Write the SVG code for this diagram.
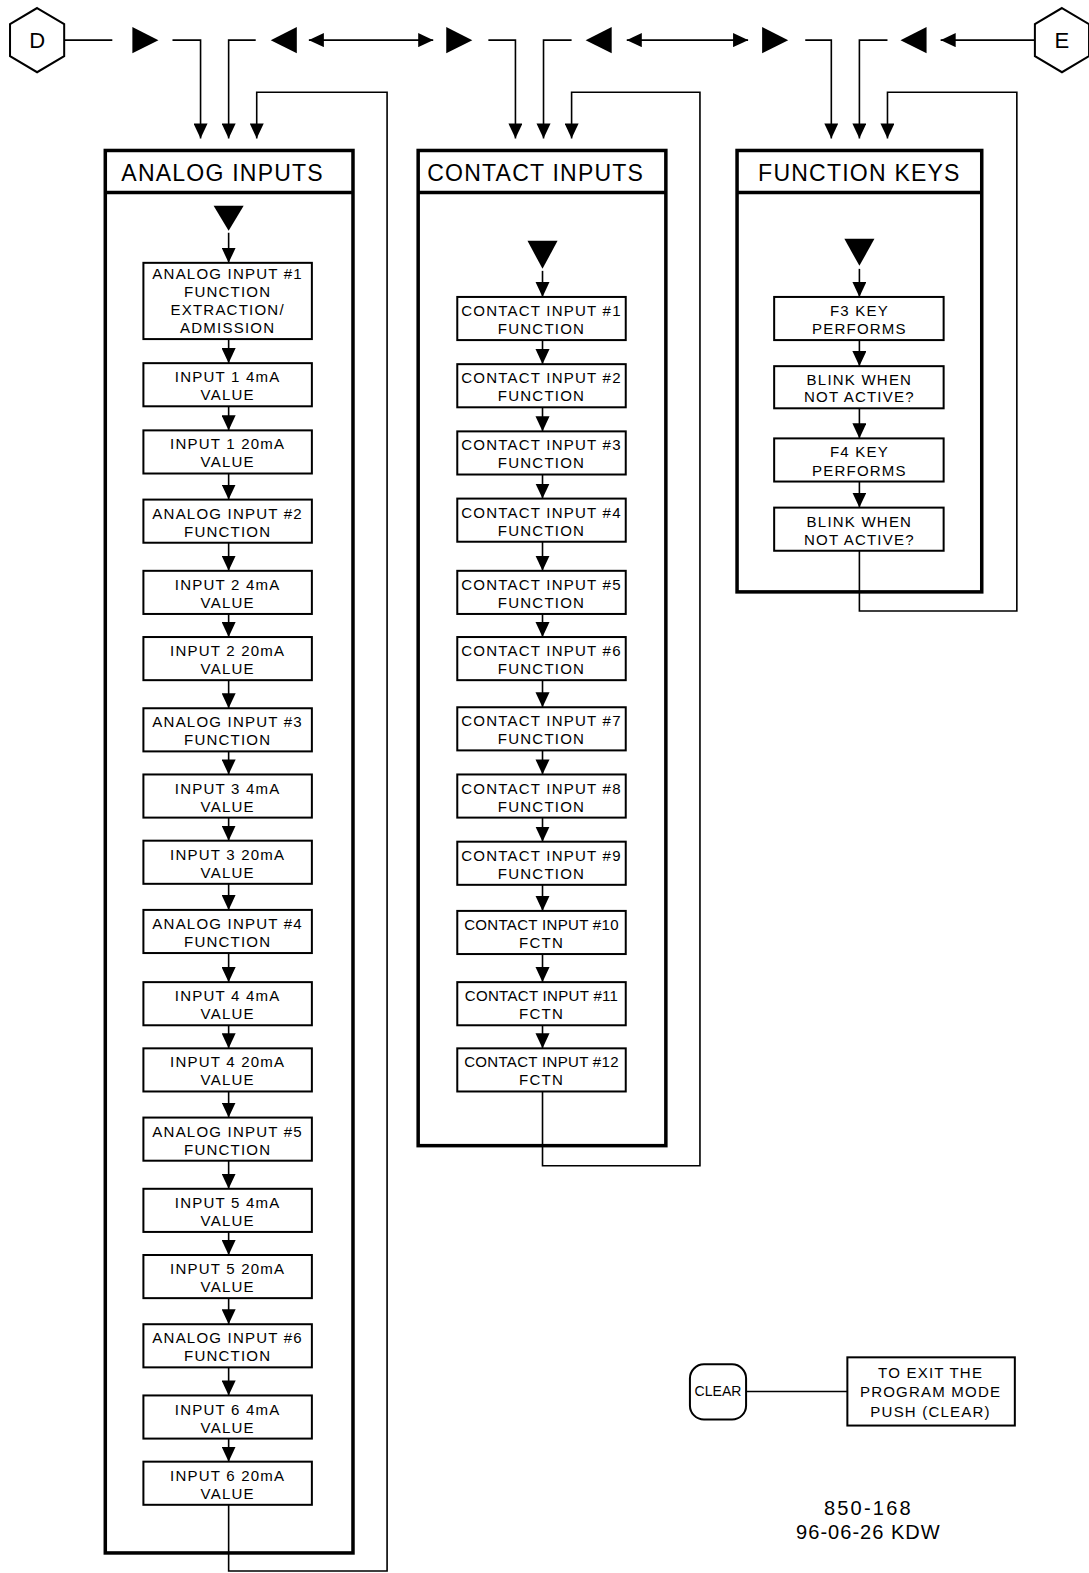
<svg xmlns="http://www.w3.org/2000/svg" width="1089" height="1573" viewBox="0 0 1089 1573">
<style>
.box{fill:#fff;stroke:#000;stroke-width:2}
.frame{fill:none;stroke:#000;stroke-width:3.5}
.conn{fill:none;stroke:#000;stroke-width:1.6}
.tri{fill:#000;stroke:none}
.t{font-family:"Liberation Sans",Arial,sans-serif;font-size:15px;text-anchor:middle;letter-spacing:1.2px;fill:#000}
.n{letter-spacing:0.3px}
.title{font-family:"Liberation Sans",Arial,sans-serif;font-size:23px;letter-spacing:1.2px;fill:#000}
.big{font-family:"Liberation Sans",Arial,sans-serif;font-size:20px;text-anchor:middle;letter-spacing:1px;fill:#000}
.hex{font-family:"Liberation Sans",Arial,sans-serif;font-size:22px;text-anchor:middle;fill:#000}
</style>
<defs>
<marker id="ah" markerWidth="15" markerHeight="14" refX="15" refY="7" orient="auto-start-reverse" markerUnits="userSpaceOnUse"><path d="M0,0 L15,7 L0,14 z" fill="#000"/></marker>
</defs>
<rect width="1089" height="1573" fill="#fff"/>
<g transform="scale(1.0028,1.0032)">
<g id="connectors">
<line class="conn" x1="64" y1="40" x2="112" y2="40"/>
<path class="conn" d="M172,40 H200 V138" marker-end="url(#ah)"/>
<path class="conn" d="M255,40 H228 V138" marker-end="url(#ah)"/>
<line class="conn" x1="308" y1="40" x2="432" y2="40" marker-start="url(#ah)" marker-end="url(#ah)"/>
<path class="conn" d="M487,40 H514 V138" marker-end="url(#ah)"/>
<path class="conn" d="M570,40 H542 V138" marker-end="url(#ah)"/>
<line class="conn" x1="625" y1="40" x2="746" y2="40" marker-start="url(#ah)" marker-end="url(#ah)"/>
<path class="conn" d="M803,40 H829 V138" marker-end="url(#ah)"/>
<path class="conn" d="M885,40 H857 V138" marker-end="url(#ah)"/>
<line class="conn" x1="1032" y1="40" x2="938" y2="40" marker-end="url(#ah)"/>
<path class="conn" d="M228,1500 V1566 H386 V92 H256 V138" marker-end="url(#ah)"/>
<path class="conn" d="M541,1088 V1162 H698 V92 H570 V138" marker-end="url(#ah)"/>
<path class="conn" d="M857,549 V609 H1014 V92 H885 V138" marker-end="url(#ah)"/>
<line class="conn" x1="744" y1="1387" x2="845" y2="1387"/>
<!-- analog chain -->
<path class="conn" marker-end="url(#ah)" d="M228,232 V262"/>
<path class="conn" marker-end="url(#ah)" d="M228,338 V362"/>
<path class="conn" marker-end="url(#ah)" d="M228,405 V429"/>
<path class="conn" marker-end="url(#ah)" d="M228,472 V498"/>
<path class="conn" marker-end="url(#ah)" d="M228,541 V569"/>
<path class="conn" marker-end="url(#ah)" d="M228,612 V635"/>
<path class="conn" marker-end="url(#ah)" d="M228,678 V706"/>
<path class="conn" marker-end="url(#ah)" d="M228,749 V772"/>
<path class="conn" marker-end="url(#ah)" d="M228,815 V838"/>
<path class="conn" marker-end="url(#ah)" d="M228,881 V907"/>
<path class="conn" marker-end="url(#ah)" d="M228,950 V979"/>
<path class="conn" marker-end="url(#ah)" d="M228,1022 V1045"/>
<path class="conn" marker-end="url(#ah)" d="M228,1088 V1114"/>
<path class="conn" marker-end="url(#ah)" d="M228,1157 V1185"/>
<path class="conn" marker-end="url(#ah)" d="M228,1228 V1251"/>
<path class="conn" marker-end="url(#ah)" d="M228,1294 V1320"/>
<path class="conn" marker-end="url(#ah)" d="M228,1363 V1391"/>
<path class="conn" marker-end="url(#ah)" d="M228,1434 V1457"/>
<!-- contact chain -->
<path class="conn" marker-end="url(#ah)" d="M541,270 V296"/>
<path class="conn" marker-end="url(#ah)" d="M541,339 V363"/>
<path class="conn" marker-end="url(#ah)" d="M541,406 V430"/>
<path class="conn" marker-end="url(#ah)" d="M541,473 V497"/>
<path class="conn" marker-end="url(#ah)" d="M541,540 V569"/>
<path class="conn" marker-end="url(#ah)" d="M541,612 V635"/>
<path class="conn" marker-end="url(#ah)" d="M541,678 V705"/>
<path class="conn" marker-end="url(#ah)" d="M541,748 V772"/>
<path class="conn" marker-end="url(#ah)" d="M541,815 V839"/>
<path class="conn" marker-end="url(#ah)" d="M541,882 V908"/>
<path class="conn" marker-end="url(#ah)" d="M541,951 V979"/>
<path class="conn" marker-end="url(#ah)" d="M541,1022 V1045"/>
<!-- function chain -->
<path class="conn" marker-end="url(#ah)" d="M857,268 V296"/>
<path class="conn" marker-end="url(#ah)" d="M857,339 V365"/>
<path class="conn" marker-end="url(#ah)" d="M857,407 V437"/>
<path class="conn" marker-end="url(#ah)" d="M857,480 V506"/>
</g>

<g id="hex-D"><polygon class="box" points="37,8 64,24 64,56 37,72 10,56 10,24"/><text class="hex" x="37" y="48">D</text></g>
<g id="hex-E"><polygon class="box" points="1059,8 1086,24 1086,56 1059,72 1032,56 1032,24"/><text class="hex" x="1059" y="48">E</text></g>

<g id="keys">
<polygon class="tri" points="132,27 158,40 132,53"/>
<polygon class="tri" points="296,27 270,40 296,53"/>
<polygon class="tri" points="445,27 471,40 445,53"/>
<polygon class="tri" points="610,27 584,40 610,53"/>
<polygon class="tri" points="760,27 786,40 760,53"/>
<polygon class="tri" points="924,27 898,40 924,53"/>
<polygon class="tri" points="213,205 243,205 228,230"/>
<polygon class="tri" points="526,240 556,240 541,268"/>
<polygon class="tri" points="842,238 872,238 857,265"/>
</g>

<g id="analog-frame"><rect class="frame" x="105" y="150" width="247" height="1398"/><line class="frame" x1="105" y1="192" x2="352" y2="192"/><text class="title" x="121" y="180">ANALOG INPUTS</text></g>
<g id="contact-frame"><rect class="frame" x="417" y="150" width="247" height="992"/><line class="frame" x1="417" y1="192" x2="664" y2="192"/><text class="title" x="426" y="180">CONTACT INPUTS</text></g>
<g id="function-frame"><rect class="frame" x="735" y="150" width="244" height="440"/><line class="frame" x1="735" y1="192" x2="979" y2="192"/><text class="title" x="756" y="180">FUNCTION KEYS</text></g>

<g id="a1"><rect class="box" x="143" y="262" width="168" height="76"/><text class="t" x="227" y="278">ANALOG INPUT #1</text><text class="t" x="227" y="296">FUNCTION</text><text class="t" x="227" y="314">EXTRACTION/</text><text class="t" x="227" y="332">ADMISSION</text></g>
<g id="a2"><rect class="box" x="143" y="362" width="168" height="43"/><text class="t" x="227" y="381">INPUT 1 4mA</text><text class="t" x="227" y="399">VALUE</text></g>
<g id="a3"><rect class="box" x="143" y="429" width="168" height="43"/><text class="t" x="227" y="448">INPUT 1 20mA</text><text class="t" x="227" y="466">VALUE</text></g>
<g id="a4"><rect class="box" x="143" y="498" width="168" height="43"/><text class="t" x="227" y="517">ANALOG INPUT #2</text><text class="t" x="227" y="535">FUNCTION</text></g>
<g id="a5"><rect class="box" x="143" y="569" width="168" height="43"/><text class="t" x="227" y="588">INPUT 2 4mA</text><text class="t" x="227" y="606">VALUE</text></g>
<g id="a6"><rect class="box" x="143" y="635" width="168" height="43"/><text class="t" x="227" y="654">INPUT 2 20mA</text><text class="t" x="227" y="672">VALUE</text></g>
<g id="a7"><rect class="box" x="143" y="706" width="168" height="43"/><text class="t" x="227" y="725">ANALOG INPUT #3</text><text class="t" x="227" y="743">FUNCTION</text></g>
<g id="a8"><rect class="box" x="143" y="772" width="168" height="43"/><text class="t" x="227" y="791">INPUT 3 4mA</text><text class="t" x="227" y="809">VALUE</text></g>
<g id="a9"><rect class="box" x="143" y="838" width="168" height="43"/><text class="t" x="227" y="857">INPUT 3 20mA</text><text class="t" x="227" y="875">VALUE</text></g>
<g id="a10"><rect class="box" x="143" y="907" width="168" height="43"/><text class="t" x="227" y="926">ANALOG INPUT #4</text><text class="t" x="227" y="944">FUNCTION</text></g>
<g id="a11"><rect class="box" x="143" y="979" width="168" height="43"/><text class="t" x="227" y="998">INPUT 4 4mA</text><text class="t" x="227" y="1016">VALUE</text></g>
<g id="a12"><rect class="box" x="143" y="1045" width="168" height="43"/><text class="t" x="227" y="1064">INPUT 4 20mA</text><text class="t" x="227" y="1082">VALUE</text></g>
<g id="a13"><rect class="box" x="143" y="1114" width="168" height="43"/><text class="t" x="227" y="1133">ANALOG INPUT #5</text><text class="t" x="227" y="1151">FUNCTION</text></g>
<g id="a14"><rect class="box" x="143" y="1185" width="168" height="43"/><text class="t" x="227" y="1204">INPUT 5 4mA</text><text class="t" x="227" y="1222">VALUE</text></g>
<g id="a15"><rect class="box" x="143" y="1251" width="168" height="43"/><text class="t" x="227" y="1270">INPUT 5 20mA</text><text class="t" x="227" y="1288">VALUE</text></g>
<g id="a16"><rect class="box" x="143" y="1320" width="168" height="43"/><text class="t" x="227" y="1339">ANALOG INPUT #6</text><text class="t" x="227" y="1357">FUNCTION</text></g>
<g id="a17"><rect class="box" x="143" y="1391" width="168" height="43"/><text class="t" x="227" y="1410">INPUT 6 4mA</text><text class="t" x="227" y="1428">VALUE</text></g>
<g id="a18"><rect class="box" x="143" y="1457" width="168" height="43"/><text class="t" x="227" y="1476">INPUT 6 20mA</text><text class="t" x="227" y="1494">VALUE</text></g>

<g id="c1"><rect class="box" x="456" y="296" width="168" height="43"/><text class="t" x="540" y="315">CONTACT INPUT #1</text><text class="t" x="540" y="333">FUNCTION</text></g>
<g id="c2"><rect class="box" x="456" y="363" width="168" height="43"/><text class="t" x="540" y="382">CONTACT INPUT #2</text><text class="t" x="540" y="400">FUNCTION</text></g>
<g id="c3"><rect class="box" x="456" y="430" width="168" height="43"/><text class="t" x="540" y="449">CONTACT INPUT #3</text><text class="t" x="540" y="467">FUNCTION</text></g>
<g id="c4"><rect class="box" x="456" y="497" width="168" height="43"/><text class="t" x="540" y="516">CONTACT INPUT #4</text><text class="t" x="540" y="534">FUNCTION</text></g>
<g id="c5"><rect class="box" x="456" y="569" width="168" height="43"/><text class="t" x="540" y="588">CONTACT INPUT #5</text><text class="t" x="540" y="606">FUNCTION</text></g>
<g id="c6"><rect class="box" x="456" y="635" width="168" height="43"/><text class="t" x="540" y="654">CONTACT INPUT #6</text><text class="t" x="540" y="672">FUNCTION</text></g>
<g id="c7"><rect class="box" x="456" y="705" width="168" height="43"/><text class="t" x="540" y="724">CONTACT INPUT #7</text><text class="t" x="540" y="742">FUNCTION</text></g>
<g id="c8"><rect class="box" x="456" y="772" width="168" height="43"/><text class="t" x="540" y="791">CONTACT INPUT #8</text><text class="t" x="540" y="809">FUNCTION</text></g>
<g id="c9"><rect class="box" x="456" y="839" width="168" height="43"/><text class="t" x="540" y="858">CONTACT INPUT #9</text><text class="t" x="540" y="876">FUNCTION</text></g>
<g id="c10"><rect class="box" x="456" y="908" width="168" height="43"/><text class="t n" x="540" y="927">CONTACT INPUT #10</text><text class="t" x="540" y="945">FCTN</text></g>
<g id="c11"><rect class="box" x="456" y="979" width="168" height="43"/><text class="t n" x="540" y="998">CONTACT INPUT #11</text><text class="t" x="540" y="1016">FCTN</text></g>
<g id="c12"><rect class="box" x="456" y="1045" width="168" height="43"/><text class="t n" x="540" y="1064">CONTACT INPUT #12</text><text class="t" x="540" y="1082">FCTN</text></g>

<g id="f1"><rect class="box" x="772" y="296" width="169" height="43"/><text class="t" x="857" y="315">F3 KEY</text><text class="t" x="857" y="333">PERFORMS</text></g>
<g id="f2"><rect class="box" x="772" y="365" width="169" height="42"/><text class="t" x="857" y="384">BLINK WHEN</text><text class="t" x="857" y="401">NOT ACTIVE?</text></g>
<g id="f3"><rect class="box" x="772" y="437" width="169" height="43"/><text class="t" x="857" y="456">F4 KEY</text><text class="t" x="857" y="474">PERFORMS</text></g>
<g id="f4"><rect class="box" x="772" y="506" width="169" height="43"/><text class="t" x="857" y="525">BLINK WHEN</text><text class="t" x="857" y="543">NOT ACTIVE?</text></g>

<g id="clear"><rect class="box" x="688" y="1360" width="56" height="55" rx="14"/><text class="t" x="716" y="1392" style="letter-spacing:0;font-size:14px">CLEAR</text></g>
<g id="exit-note"><rect class="box" x="845" y="1353" width="167" height="68"/><text class="t" x="928" y="1374">TO EXIT THE</text><text class="t" x="928" y="1393">PROGRAM MODE</text><text class="t" x="928" y="1412">PUSH (CLEAR)</text></g>
<g id="drawing-no"><text class="big" x="866" y="1510" style="letter-spacing:2.2px">850-168</text><text class="big" x="866" y="1534">96-06-26 KDW</text></g>
</g>
</svg>
